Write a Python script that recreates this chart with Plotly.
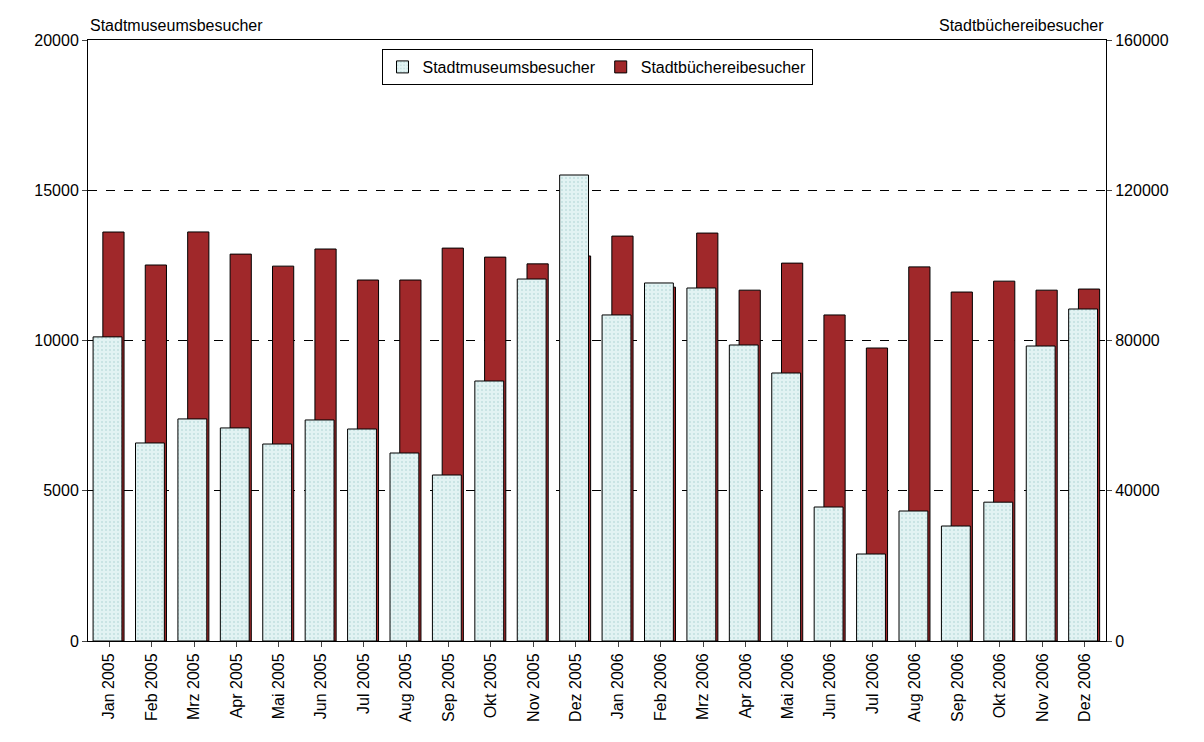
import plotly.graph_objects as go

months = ["Jan 2005", "Feb 2005", "Mrz 2005", "Apr 2005", "Mai 2005", "Jun 2005",
          "Jul 2005", "Aug 2005", "Sep 2005", "Okt 2005", "Nov 2005", "Dez 2005",
          "Jan 2006", "Feb 2006", "Mrz 2006", "Apr 2006", "Mai 2006", "Jun 2006",
          "Jul 2006", "Aug 2006", "Sep 2006", "Okt 2006", "Nov 2006", "Dez 2006"]

museum = [10120, 6590, 7390, 7090, 6555, 7355, 7055, 6256, 5524, 8652, 12046, 15507,
          10850, 11914, 11747, 9850, 8918, 4459, 2895, 4326, 3827, 4620, 9817, 11048]

library = [108880, 100100, 108900, 103000, 99800, 104360, 96100, 96100, 104600, 102200,
           100400, 102500, 107800, 94200, 108600, 93400, 100600, 86800, 78000, 99600,
           92900, 95800, 93400, 93700]

xs = list(range(len(months)))
font = "Liberation Sans, Arial, sans-serif"

fig = go.Figure()
# red bars on primary axis (drawn behind), light bars on overlaying axis (front)
fig.add_trace(go.Bar(
    x=xs, y=library, name="Stadtbüchereibesucher", yaxis="y",
    width=0.5, offset=-0.15,
    marker=dict(color="#a0282a", line=dict(color="black", width=1)),
    legendrank=2,
))
fig.add_trace(go.Bar(
    x=xs, y=museum, name="Stadtmuseumsbesucher", yaxis="y2",
    width=0.68, offset=-0.38,
    marker=dict(color="#e2f3f3", line=dict(color="black", width=1),
                pattern=dict(shape=".", fgcolor="#9fc9c9", size=4, solidity=0.2)),
    legendrank=1,
))

fig.update_layout(
    width=1204, height=742,
    margin=dict(l=80, r=106, t=32, b=109),
    paper_bgcolor="white", plot_bgcolor="white",
    barmode="overlay",
    font=dict(family=font, size=16, color="black"),
    showlegend=True,
    legend=dict(orientation="h", x=0.5, xanchor="center", y=0.985, yanchor="top",
                bordercolor="black", borderwidth=1, bgcolor="white",
                font=dict(size=16), itemwidth=30, tracegroupgap=0,
                traceorder="normal"),
    xaxis=dict(range=[-0.5, len(months) - 0.5], tickmode="array", tickvals=xs,
               ticktext=months, tickangle=-90, showline=True, linecolor="black",
               mirror=True, ticks="outside", ticklen=5, showgrid=False, zeroline=False,
               automargin=False),
    yaxis=dict(side="right", range=[0, 160000], tickvals=[0, 40000, 80000, 120000, 160000],
               tickformat="d", automargin=False,
               showline=True, linecolor="black", ticks="outside", ticklen=5,
               showgrid=True, gridcolor="black", griddash="dash", gridwidth=1,
               zeroline=False),
    yaxis2=dict(side="left", overlaying="y", range=[0, 20000],
                tickvals=[0, 5000, 10000, 15000, 20000], tickformat="d",
                automargin=False,
                showline=True, linecolor="black", ticks="outside", ticklen=5,
                showgrid=False, zeroline=False),
    annotations=[
        dict(text="Stadtmuseumsbesucher", xref="paper", yref="paper", x=0.0, y=1.0,
             xanchor="left", yanchor="bottom", showarrow=False, yshift=4,
             font=dict(size=16)),
        dict(text="Stadtbüchereibesucher", xref="paper", yref="paper", x=1.0, y=1.0,
             xanchor="right", yanchor="bottom", showarrow=False, yshift=4,
             font=dict(size=16)),
    ],
)

fig.write_html("out.html")
